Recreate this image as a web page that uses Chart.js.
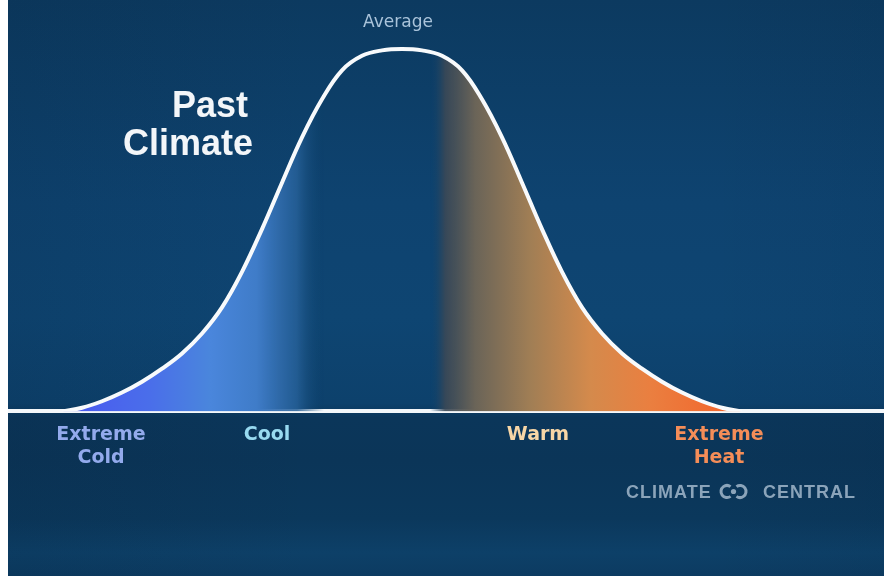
<!DOCTYPE html>
<html>
<head>
<meta charset="utf-8">
<script src="https://cdn.jsdelivr.net/npm/chart.js@4.4.1/dist/chart.umd.min.js"></script>
<style>
  html, body { margin: 0; padding: 0; background: #fff; }
  #wrap {
    position: absolute; left: 8px; top: 0; width: 876px; height: 576px;
    background:
      linear-gradient(90deg, rgba(3,20,40,0.1) 0%, rgba(3,20,40,0) 35%, rgba(3,20,40,0) 80%, rgba(3,20,40,0.05) 100%),
      linear-gradient(180deg, #0c3a60 0%, #0e4370 35%, #0e4572 55%, #0d416c 70%, #0b365a 72.5%, #0b3558 80%, #0b385c 90%, #0d4068 96%, #0c3b61 100%);
  }
</style>
</head>
<body>
<div id="wrap"><canvas id="chart" width="876" height="576"></canvas></div>
<script>
// deviation from the average and relative frequency (peak = 1)
const deviation = [-3.4, -3.2, -3.0, -2.8, -2.6, -2.4, -2.2, -2.0, -1.8, -1.6, -1.4, -1.2, -1.0, -0.8, -0.6, -0.4, -0.2, 0,
  0.2, 0.4, 0.6, 0.8, 1.0, 1.2, 1.4, 1.6, 1.8, 2.0, 2.2, 2.4, 2.6, 2.8, 3.0, 3.2, 3.4];
const frequency = [0, 0.01, 0.028, 0.052, 0.082, 0.118, 0.16, 0.215, 0.287, 0.385, 0.503, 0.631, 0.756, 0.861, 0.941, 0.981, 0.996, 1.0,
  0.996, 0.981, 0.941, 0.861, 0.756, 0.631, 0.503, 0.385, 0.287, 0.215, 0.16, 0.118, 0.082, 0.052, 0.028, 0.01, 0];

const tickValues = [-3.01, -1.35, 1.36, 3.17];
const tickLabels = [["Extreme", "Cold"], "Cool", "Warm", ["Extreme", "Heat"]];
const tickColors = ["#93aaec", "#98daf0", "#f7d6a6", "#f48d58"];

// fill colour along the x axis
const fillStops = [
  [-3.3, "#4a5af0"],
  [-2.52, "#4a6eea"],
  [-1.92, "#4a86dc"],
  [-1.45, "#3f7cc8"],
  [-1.05, "rgba(38,96,152,0.85)"],
  [-0.78, "rgba(14,66,108,0)"],
  [0.28, "rgba(14,66,108,0)"],
  [0.43, "rgba(58,72,86,0.9)"],
  [0.73, "#6a6458"],
  [1.28, "#a07e55"],
  [1.88, "#d48a4c"],
  [2.48, "#ea7f40"],
  [3.2, "#f2682e"],
];

function areaFill(context) {
  const { chart } = context;
  const { ctx, chartArea, scales } = chart;
  if (!chartArea) return "transparent";
  const x0 = scales.x.left;
  const x1 = scales.x.right;
  const g = ctx.createLinearGradient(x0, 0, x1, 0);
  fillStops.forEach(([v, c]) => {
    g.addColorStop((scales.x.getPixelForValue(v) - x0) / (x1 - x0), c);
  });
  return g;
}

const annotations = {
  id: "annotations",
  afterDraw(chart) {
    const { ctx, scales: { x } } = chart;
    ctx.save();
    ctx.textBaseline = "alphabetic";

    ctx.font = "17px 'DejaVu Sans'";
    ctx.fillStyle = "#a9c3da";
    ctx.textAlign = "center";
    ctx.fillText("Average", x.getPixelForValue(-0.04), 27);

    ctx.font = "bold 36px 'Liberation Sans'";
    ctx.fillStyle = "#f3f6f9";
    ctx.textAlign = "right";
    ctx.fillText("Past", 240, 117);
    ctx.fillText("Climate", 245, 155);

    // logo
    ctx.font = "bold 18px 'Liberation Sans'";
    ctx.fillStyle = "#8ba4ba";
    ctx.strokeStyle = "#8ba4ba";
    ctx.textAlign = "left";
    ctx.letterSpacing = "1px";
    ctx.fillText("CLIMATE", 618, 498);
    ctx.fillText("CENTRAL", 755, 498);
    ctx.lineWidth = 3;
    ctx.beginPath();
    ctx.arc(719, 491.5, 6, 0.3 * Math.PI, 1.7 * Math.PI);
    ctx.stroke();
    ctx.beginPath();
    ctx.arc(732, 491.5, 6, -0.7 * Math.PI, 0.7 * Math.PI);
    ctx.stroke();
    ctx.beginPath();
    ctx.arc(725.5, 491.5, 2.6, 0, 2 * Math.PI);
    ctx.fill();
    ctx.restore();
  },
};

const config = {
  type: "line",
  data: {
    datasets: [{
      label: "Past Climate",
      data: deviation.map((d, i) => ({ x: d, y: frequency[i] })),
      borderColor: "#f8fafc",
      borderWidth: 4,
      backgroundColor: areaFill,
      fill: "origin",
      pointRadius: 0,
      tension: 0.4,
    }],
  },
  options: {
    responsive: false,
    animation: false,
    layout: { padding: { left: 0, right: 0, top: 0, bottom: 95 } },
    plugins: {
      legend: { display: false },
      tooltip: { enabled: false },
    },
    scales: {
      x: {
        type: "linear",
        min: -3.94,
        max: 4.82,
        grid: { display: false, drawTicks: false },
        border: { display: true, color: "#f4f7fa", width: 4 },
        afterBuildTicks: (scale) => {
          scale.ticks = tickValues.map((v) => ({ value: v }));
        },
        ticks: {
          autoSkip: false,
          maxRotation: 0,
          padding: 12,
          font: { family: "DejaVu Sans", size: 19, weight: "bold", lineHeight: 1.2 },
          color: (c) => tickColors[c.index],
          callback: (value, index) => tickLabels[index],
        },
      },
      y: { display: false, min: 0, max: 1.135 },
    },
  },
  plugins: [annotations],
};

new Chart(document.getElementById("chart"), config);
</script>
</body>
</html>
